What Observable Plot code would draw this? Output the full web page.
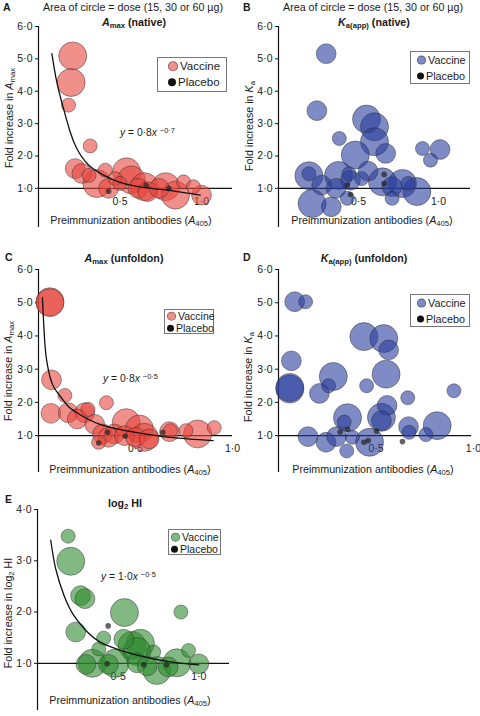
<!DOCTYPE html>
<html><head><meta charset="utf-8">
<script src="https://cdn.jsdelivr.net/npm/d3@7"></script>
<script src="https://cdn.jsdelivr.net/npm/@observablehq/plot@0.6"></script>
<style>
body{margin:0;background:#fff;font-family:"Liberation Sans",Arial,sans-serif;color:#1a1a1a}
#fig{position:relative;width:480px;height:716px;overflow:hidden;background:#fff}
.t{position:absolute;white-space:nowrap;font-size:10.7px;line-height:1}
.b{font-weight:bold}
.t sub{font-size:0.72em;vertical-align:-0.3em;line-height:0}
.t sup{font-size:0.72em;vertical-align:0.45em;line-height:0}
.leg{position:absolute;border:1px solid #777;background:#fff;box-sizing:border-box;font-size:11px}
.leg .row{position:absolute;left:0;white-space:nowrap;line-height:1}
.leg .sym{display:inline-block;border-radius:50%;vertical-align:middle;margin-right:2px;position:relative;top:-1px}
</style></head>
<body><div id="fig"></div>
<script>
// ---------- data (x = preimmunization A405, y = fold increase, dose in µg) ----------
const vaccineA = [[0.21,5.09,60],[0.20,4.27,60],[0.184,3.57,15],[0.317,2.31,15],[0.225,1.61,30],[0.266,1.46,30],[0.358,1.15,60],[0.41,1.56,15],[0.31,1.4,15],[0.43,1.0,30],[0.47,1.3,15],[0.5,1.15,15],[0.54,1.51,60],[0.57,1.26,60],[0.61,1.0,30],[0.65,1.05,60],[0.67,0.9,30],[0.74,1.0,30],[0.78,1.05,60],[0.84,0.79,60],[0.89,1.2,15],[0.95,1.05,15],[1.0,0.79,30]];
const placeboA = [[0.43,0.91],[0.66,1.09],[0.8,1.0]];
const fitA = [[0.082,5.16],[0.112,4.29],[0.153,3.47],[0.194,2.75],[0.235,2.23],[0.307,1.72],[0.399,1.41],[0.491,1.2],[0.613,1.05],[0.777,0.95],[0.992,0.79]];

const vaccineB = [[0.298,5.16,30],[0.24,3.4,30],[0.55,3.14,60],[0.60,2.9,60],[0.60,2.44,60],[0.38,2.54,15],[0.48,2.03,60],[0.67,2.08,30],[0.9,2.23,15],[1.01,2.2,30],[0.95,1.87,15],[0.19,1.39,60],[0.19,1.45,15],[0.375,1.4,60],[0.44,1.45,15],[0.27,1.1,30],[0.56,1.53,30],[0.65,1.2,60],[0.775,1.15,60],[0.865,0.9,60],[0.21,0.53,60],[0.33,0.43,30],[0.36,1.0,30],[0.45,1.25,30],[0.43,0.69,15],[0.71,0.69,15],[0.81,1.15,15],[0.71,1.05,30],[0.52,1.3,15]];
const placeboB = [[0.66,1.43],[0.66,1.15],[0.43,1.1],[0.45,0.81]];

const vaccineC = [[0.059,5.03,60],[0.059,5.0,60],[0.067,2.68,30],[0.136,2.21,15],[0.064,1.67,30],[0.153,1.69,30],[0.238,1.69,30],[0.255,1.79,15],[0.35,1.99,15],[0.2,1.5,30],[0.29,1.34,30],[0.33,1.05,30],[0.39,1.05,30],[0.36,0.95,30],[0.31,0.8,15],[0.452,1.39,60],[0.443,1.0,30],[0.52,1.2,60],[0.546,0.95,60],[0.5,0.95,30],[0.57,0.9,30],[0.675,1.12,30],[0.68,1.15,15],[0.76,1.15,15],[0.82,1.05,60],[0.906,1.24,15]];
const placeboC = [[0.31,0.78],[0.356,1.1],[0.447,0.98],[0.64,1.1]];
const fitC = [[0.02,5.15],[0.033,3.75],[0.045,3.16],[0.06,2.75],[0.08,2.45],[0.11,2.2],[0.15,1.9],[0.2,1.68],[0.32,1.33],[0.5,1.1],[0.68,0.95],[0.9,0.85]];

const vaccineD = [[0.083,5.03,30],[0.139,5.03,15],[0.438,3.98,60],[0.54,3.92,60],[0.565,3.58,30],[0.066,3.25,30],[0.281,2.78,60],[0.552,2.85,60],[0.058,2.4,60],[0.058,2.45,60],[0.21,2.27,30],[0.257,2.5,15],[0.452,2.5,15],[0.9,2.35,15],[0.663,2.14,15],[0.557,1.91,30],[0.354,1.54,60],[0.337,1.41,15],[0.528,1.55,60],[0.528,1.45,30],[0.667,1.27,30],[0.67,1.1,15],[0.814,1.3,60],[0.756,1.03,15],[0.151,0.97,30],[0.244,0.8,30],[0.298,0.97,30],[0.379,0.95,15],[0.467,0.8,60],[0.35,0.54,15]];
const placeboD = [[0.316,1.11],[0.354,1.19],[0.438,0.8],[0.46,0.85],[0.503,1.14],[0.636,0.82]];

const vaccineE = [[0.19,3.48,15],[0.206,2.99,60],[0.267,2.32,30],[0.294,2.26,30],[0.237,1.61,30],[0.539,1.99,60],[0.889,2.0,15],[0.41,1.49,15],[0.38,1.28,15],[0.535,1.47,30],[0.586,1.35,60],[0.638,1.39,60],[0.617,1.23,60],[0.72,1.22,15],[0.936,1.25,15],[0.34,1.0,60],[0.3,0.98,30],[0.44,0.98,30],[0.48,1.0,60],[0.74,0.86,60],[0.617,1.01,30],[0.81,0.93,30],[0.864,1.01,60],[1.0,0.99,30],[0.68,0.95,30]];
const placeboE = [[0.438,1.73],[0.432,0.99],[0.658,0.97],[0.8,0.97]];
const fitE = [[0.082,3.4],[0.113,2.84],[0.165,2.32],[0.226,1.93],[0.309,1.61],[0.41,1.38],[0.617,1.16],[0.823,1.03],[1.0,0.97]];

const yTicks6 = [1,2,3,4,5,6];
const yTicks4 = [1,2,3,4];
const xTicks = [0.5, 1.0];

const red = "#e8453c", blue = "#2a3d9c", green = "#2e8a2e";
const fmt = d => d.toFixed(1).replace(".", "·");
const FONT = "'Liberation Sans', Arial, sans-serif";
const fig = document.getElementById("fig");

function panel({vac, pla, fit, color, xMax, yMin, yMax, yTicks, height, ml, mr, mt, mb, left, top}) {
  const marks = [
    Plot.axisY({ticks: yTicks, tickSize: 3, tickPadding: 3, tickFormat: fmt, label: null, fontSize: 10.5}),
    Plot.ruleX([0], {stroke: "#111", strokeWidth: 1.2}),
    Plot.ruleY([1], {stroke: "#111", strokeWidth: 1.2}),
    Plot.text(xTicks, {x: d => d, y: () => 1, dy: 13, text: fmt, fontSize: 10.5, fill: "#1a1a1a"}),
    Plot.dot(vac, {x: d => d[0], y: d => d[1], r: d => d[2], fill: color, fillOpacity: 0.6, stroke: "#2b2b2b", strokeOpacity: 0.5, strokeWidth: 0.9}),
    Plot.dot(pla, {x: d => d[0], y: d => d[1], r: 2.8, fill: "#222", fillOpacity: 0.7})
  ];
  if (fit) marks.push(Plot.line(fit, {x: d => d[0], y: d => d[1], curve: "natural", stroke: "#111", strokeWidth: 1.3}));
  const svg = Plot.plot({
    width: 240, height, marginLeft: ml, marginRight: mr, marginTop: mt, marginBottom: mb,
    x: {domain: [0, xMax], axis: null},
    y: {domain: [yMin, yMax], axis: null},
    r: {type: "sqrt", domain: [0, 60], range: [0, 14]},
    style: {background: "transparent", overflow: "visible", fontFamily: FONT, fontSize: "10.5px", color: "#1a1a1a"},
    marks
  });
  svg.style.position = "absolute";
  svg.style.left = left + "px";
  svg.style.top = top + "px";
  fig.appendChild(svg);
}

panel({vac: vaccineA, pla: placeboA, fit: fitA, color: red, xMax: 1.19, yMin: -0.21, yMax: 6, yTicks: yTicks6, height: 230, ml: 38, mr: 8, mt: 26, mb: 3, left: 0, top: 0});
panel({vac: vaccineB, pla: placeboB, fit: null, color: blue, xMax: 1.2, yMin: -0.21, yMax: 6, yTicks: yTicks6, height: 230, ml: 38, mr: 10, mt: 26, mb: 3, left: 240, top: 0});
panel({vac: vaccineC, pla: placeboC, fit: fitC, color: red, xMax: 1.0, yMin: -0.11, yMax: 6, yTicks: yTicks6, height: 245, ml: 38, mr: 8, mt: 39, mb: 3, left: 0, top: 230});
panel({vac: vaccineD, pla: placeboD, fit: null, color: blue, xMax: 0.99, yMin: -0.11, yMax: 6, yTicks: yTicks6, height: 245, ml: 38, mr: 9, mt: 39, mb: 3, left: 240, top: 230});
panel({vac: vaccineE, pla: placeboE, fit: fitE, color: green, xMax: 1.19, yMin: 0.08, yMax: 4, yTicks: yTicks4, height: 241, ml: 37, mr: 11, mt: 34, mb: 6, left: 0, top: 475});

// ---------- text overlays ----------
function txt(html, x, y, {anchor = "middle", rot = false, cls = "", size} = {}) {
  const d = document.createElement("div");
  d.className = "t " + cls;
  d.innerHTML = html;
  d.style.left = x + "px";
  d.style.top = y + "px";
  if (size) d.style.fontSize = size + "px";
  const tx = anchor === "middle" ? "-50%" : anchor === "end" ? "-100%" : "0";
  d.style.transform = `translate(${tx},-50%)` + (rot ? " rotate(-90deg)" : "");
  d.style.transformOrigin = "50% 50%";
  fig.appendChild(d);
  return d;
}
const header = "Area of circle = dose (15, 30 or 60 µg)";
const xTitle = "Preimmunization antibodies (<i>A</i><sub>405</sub>)";
const amax = "<i>A</i><sub>max</sub>";
const ka = "<i>K</i><sub>a(app)</sub>";

txt("A", 3, 7, {anchor: "start", cls: "b", size: 10.5});
txt("B", 243, 7, {anchor: "start", cls: "b", size: 10.5});
txt("C", 5, 257, {anchor: "start", cls: "b", size: 10.5});
txt("D", 243, 257, {anchor: "start", cls: "b", size: 10.5});
txt("E", 5, 499, {anchor: "start", cls: "b", size: 10.5});

txt(header, 133, 7);
txt(header, 373, 7);
txt(amax + " (native)", 134, 22, {cls: "b"});
txt(ka + " (native)", 374, 22, {cls: "b"});
txt(amax + " (unfoldon)", 124, 258, {cls: "b"});
txt(ka + " (unfoldon)", 364, 258, {cls: "b"});
txt("log<sub>2</sub> HI", 125, 503, {cls: "b"});

txt("Fold increase in " + amax, 9, 118, {rot: true});
txt("Fold increase in <i>K</i><sub>a</sub>", 249, 126, {rot: true});
txt("Fold increase in " + amax, 8, 371, {rot: true});
txt("Fold increase in <i>K</i><sub>a</sub>", 248, 377, {rot: true});
txt("Fold increase in log<sub>2</sub> HI", 8, 613, {rot: true});

txt(xTitle, 131, 220);
txt(xTitle, 372, 220);
txt(xTitle, 130, 469);
txt(xTitle, 373, 469);
txt(xTitle, 130, 700);

txt("<i>y</i> = 0·8<i>x</i> <sup>−0·7</sup>", 120, 133, {anchor: "start", size: 10.3});
txt("<i>y</i> = 0·8<i>x</i> <sup>−0·5</sup>", 103, 379, {anchor: "start", size: 10.3});
txt("<i>y</i> = 1·0<i>x</i> <sup>−0·5</sup>", 101, 577, {anchor: "start", size: 10.3});

// ---------- legends ----------
function legend(color, left, top, w, h, symX, y1, y2, fs, sz) {
  const box = document.createElement("div");
  box.className = "leg";
  Object.assign(box.style, {left: left + "px", top: top + "px", width: w + "px", height: h + "px", fontSize: fs + "px"});
  const rows = [["Vaccine", true], ["Placebo", false]];
  rows.forEach(([name, vac], i) => {
    const r = document.createElement("div");
    r.className = "row";
    r.style.left = symX + "px";
    r.style.top = (i === 0 ? y1 : y2) + "px";
    r.style.transform = "translateY(-50%)";
    const s = document.createElement("span");
    s.className = "sym";
    const d = vac ? sz : sz - 2;
    Object.assign(s.style, {width: d + "px", height: d + "px"});
    if (vac) { s.style.background = d3.color(color).copy({opacity: 0.6}).formatRgb(); s.style.boxShadow = "inset 0 0 0 0.8px rgba(40,40,40,0.5)"; }
    else s.style.background = "#111";
    r.appendChild(s);
    r.appendChild(document.createTextNode(name));
    box.appendChild(r);
  });
  fig.appendChild(box);
}
legend(red, 157, 57, 70, 35, 10, 9, 25, 11.5, 10);
legend(blue, 410, 51, 60, 33, 6, 8, 24, 10.8, 9);
legend(red, 164, 309, 50, 25, 2, 6, 18, 10.5, 9);
legend(blue, 410, 294, 60, 33, 6, 8, 24, 10.8, 9);
legend(green, 168, 529, 53, 26, 2, 7, 19, 10.5, 9);
</script>
</body></html>
